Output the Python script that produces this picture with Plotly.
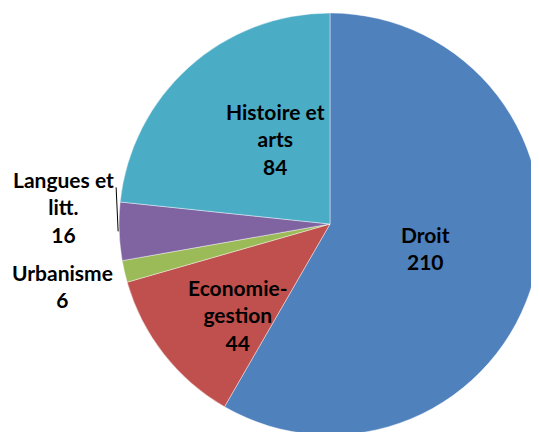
import math
import plotly.graph_objects as go

# ---- data ----
labels = ["Droit", "Economie-<br>gestion", "Urbanisme", "Langues et<br>litt.", "Histoire et<br>arts"]
values = [210, 44, 6, 16, 84]
colors = ["#4F81BD", "#C0504D", "#9BBB59", "#8064A2", "#4BACC6"]

# ---- label styling (placement relative to slice geometry) ----
label_mode = ["inside", "inside", "outside", "outside", "inside"]
label_shift = [(-6, -3), (-9, 26), (-62, 15), (-56, -24), (16, -7)]
leader = [False, False, False, True, False]

W, H = 539, 432
# pie geometry in figure pixels
CX, CY, R = 322.0, 216.0, 211.0

fig = go.Figure(go.Pie(
    labels=labels,
    values=values,
    sort=False,
    direction="clockwise",
    rotation=0,
    marker=dict(colors=colors, line=dict(color="rgba(255,255,255,0.6)", width=0.7)),
    textinfo="none",
    domain=dict(x=[(CX - R) / W, (CX + R) / W], y=[1 - (CY + R) / H, 1 - (CY - R) / H]),
    showlegend=False,
    hoverinfo="label+value",
))

total = sum(values)
cum = 0.0
font = dict(family="Lato", size=21, color="black", weight="bold")
for lab, val, mode, (sx, sy), ld in zip(labels, values, label_mode, label_shift, leader):
    mid = (cum + val / 2) / total * 2 * math.pi
    cum += val
    frac = 0.5 if mode == "inside" else 1.0
    px = CX + frac * R * math.sin(mid)
    py = CY - frac * R * math.cos(mid)
    fig.add_annotation(
        x=(px + sx) / W, y=1 - (py + sy) / H, xref="paper", yref="paper",
        text=f"{lab}<br>{val}", showarrow=False, font=font,
        xanchor="center", yanchor="middle", align="center",
    )
    if ld:
        fig.add_shape(
            type="line", xref="paper", yref="paper",
            x0=(px - 1) / W, y0=1 - py / H,
            x1=(px - 3) / W, y1=1 - (py - 44) / H,
            line=dict(color="black", width=1),
        )

fig.update_layout(
    width=W, height=H,
    margin=dict(l=0, r=0, t=0, b=0),
    paper_bgcolor="white",
    plot_bgcolor="white",
)

fig.write_html("out.html")
